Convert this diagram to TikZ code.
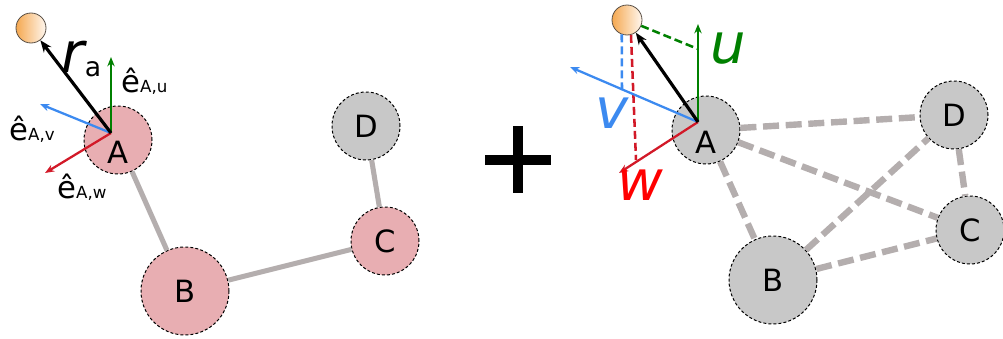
\documentclass[tikz,border=0pt]{standalone}
\usepackage{fontspec}
\setmainfont{DejaVu Sans}
\usepackage{tikz}
\usetikzlibrary{arrows.meta}
\usetikzlibrary{positioning}
\usetikzlibrary{calc}

\definecolor{nodepink}{RGB}{232,174,178}
\definecolor{nodegrey}{RGB}{200,200,200}
\definecolor{edgegrey}{RGB}{180,174,174}
\definecolor{ugreen}{RGB}{0,128,0}
\definecolor{vblue}{RGB}{60,138,240}
\definecolor{wred}{RGB}{210,25,40}
\definecolor{sphorange}{RGB}{245,168,80}

\tikzset{
  gnode/.style={circle, draw=black, line width=0.75pt, dash pattern=on 2.2pt off 1.6pt,
    minimum size=51pt, inner sep=0pt, font=\fontsize{23}{28}\selectfont},
  bignode/.style={gnode, minimum size=66pt},
  pinknode/.style={fill=nodepink},
  greynode/.style={fill=nodegrey},
  sphere/.style={circle, draw={rgb,255:red,90;green,80;blue,70}, line width=0.6pt,
    left color=sphorange, right color=white!94!orange, minimum size=22.5pt, inner sep=0pt},
  solidedge/.style={draw=edgegrey, line width=3.8pt},
  dashedge/.style={draw=edgegrey, line width=4.8pt, dash pattern=on 12pt off 5pt},
  vec/.style={line width=1.7pt, -{Stealth[length=7pt,width=5.5pt]}},
  rvec/.style={line width=2.4pt, -{Stealth[length=9pt,width=7pt]}},
  projline/.style={line width=1.9pt, dash pattern=on 6pt off 3pt},
  elabel/.style={font=\fontsize{23}{28}\selectfont, anchor=base west, inner sep=0pt},
  bigletter/.style={font=\fontsize{42}{48}\selectfont\itshape, anchor=base west, inner sep=0pt},
  Alabel/.style={label={[font=\fontsize{23}{28}\selectfont, yshift=-9pt]center:A}},
}
\newcommand{\esub}[1]{ê{\fontsize{12.5}{15}\selectfont #1}}

\begin{document}
\begin{tikzpicture}[x=0.75pt,y=-0.75pt]
\useasboundingbox (0,0) rectangle (1003,339);

%% left: solid network
\node[gnode, pinknode, Alabel] (lA) at (118,140) {};
\node[bignode, pinknode] (lB) at (185,291) {B};
\node[gnode, pinknode] (lC) at (385,241) {C};
\node[gnode, greynode] (lD) at (366,126) {D};
\draw[solidedge] (lA) -- (lB);
\draw[solidedge] (lB) -- (lC);
\draw[solidedge] (lC) -- (lD);

\node[sphere] (lS) at (31,28) {};
\coordinate (oL) at (111,133);
\coordinate (lu) at (111,57);
\coordinate (lv) at (40,104);
\coordinate (lw) at (45,173);
\draw[vec, ugreen] (oL) -- (lu);
\draw[vec, vblue] (oL) -- (lv);
\draw[vec, wred] (oL) -- (lw);
\draw[rvec] (oL) -- (lS);

% Text Node
\node[bigletter] (rlab) at (61,72) {r\kern0.5pt\raisebox{-3pt}{\upshape\fontsize{20}{24}\selectfont a}};
\node[elabel] (elu) at (121,92) {\esub{A,u}};
\node[elabel] (elv) at (9,140) {\esub{A,v}};
\node[elabel] (elw) at (57,198) {\esub{A,w}};

%% plus
\draw[line width=6.8pt] (485,160) -- (551,160);
\draw[line width=6.8pt] (518,126) -- (518,193);

%% right: dashed network
\node[gnode, greynode, Alabel] (rA) at (706,130) {};
\node[bignode, greynode] (rB) at (773,280) {B};
\node[gnode, greynode] (rC) at (970,230) {C};
\node[gnode, greynode] (rD) at (954,115) {D};
\draw[dashedge] (rA) -- (rD);
\draw[dashedge] (rA) -- (rC);
\draw[dashedge] (rA) -- (rB);
\draw[dashedge] (rB) -- (rD);
\draw[dashedge] (rB) -- (rC);
\draw[dashedge] (rD) -- (rC);

\node[sphere] (rS) at (627,20) {};
\coordinate (oR) at (698,122);
\coordinate (ru) at (698,24);
\coordinate (rv) at (570,67);
\coordinate (rw) at (619,173);
\coordinate (uproj) at (698,49);
\coordinate (vproj) at (622,90);
\coordinate (wproj) at (636,160);
\draw[projline, ugreen] (rS) -- (uproj);
\draw[projline, vblue] (rS.250) -- (vproj);
\draw[projline, wred] (rS.285) -- (wproj);
\draw[vec, ugreen] (oR) -- (ru);
\draw[vec, vblue] (oR) -- (rv);
\draw[vec, wred] (oR) -- (rw);
\draw[rvec] (oR) -- (rS);

% Text Node
\node[bigletter, text=ugreen] (ulab) at (710,63) {u};
\node[bigletter, text=vblue] (vlab) at (595,128) {v};
\node[bigletter, text=red] (wlab) at (617,200) {w};

\end{tikzpicture}
\end{document}
